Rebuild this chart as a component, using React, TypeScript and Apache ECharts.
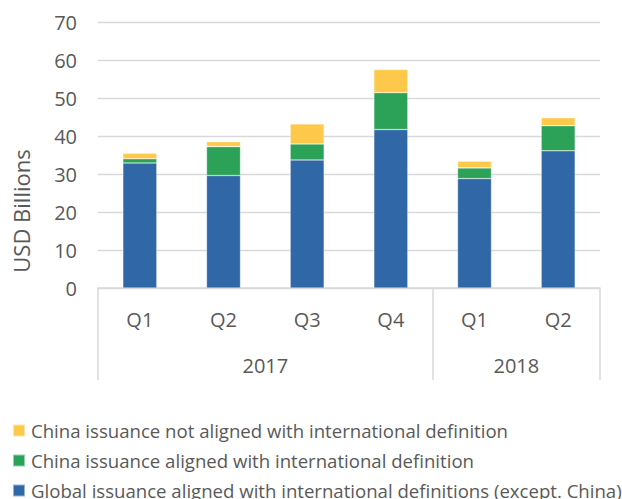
import React, { useEffect, useRef } from "react";
import * as echarts from "echarts";

const quarters = ["Q1", "Q2", "Q3", "Q4", "Q1", "Q2"];
const yearAxisLabels = ["", "", "2017", "", "", "2018", ""];
const yearBoundaryIdx = [0, 4, 6];
const globalAligned = [32.9, 29.6, 33.7, 41.7, 28.8, 36.1];
const chinaAligned = [1.1, 7.6, 4.2, 9.7, 2.8, 6.6];
const chinaNotAligned = [1.5, 1.3, 5.3, 6.1, 1.8, 2.1];
const yTicks = { min: 0, max: 70, interval: 10 };
const yTitle = "USD Billions";

const NAME_NOT = "China issuance not aligned with international definition";
const NAME_AL = "China issuance aligned with international definition";
const NAME_GL = "Global issuance aligned with international definitions (except. China)";
const legendOrder = [NAME_NOT, NAME_AL, NAME_GL];

const FONT = "Open Sans";
const TXT = "#595959";
const LINE = "#d9d9d9";

export default function App() {
  const ref = useRef<HTMLDivElement>(null);
  useEffect(() => {
    if (!ref.current) return;
    const chart = echarts.init(ref.current, undefined, { renderer: "svg" });
    const barStyle = (c: string) => ({ color: c, borderColor: "rgba(255,255,255,0.5)", borderWidth: 0.6 });
    chart.setOption({
      animation: false,
      textStyle: { fontFamily: FONT, color: TXT },
      grid: { left: 98, right: 22, top: 22, bottom: 211, containLabel: false },
      graphic: [
        {
          type: "text",
          x: 21,
          y: 211,
          rotation: Math.PI / 2,
          style: { text: yTitle, fontFamily: FONT, fontSize: 22, fill: TXT, align: "center", verticalAlign: "middle" },
        },
      ],
      legend: legendOrder.map((name, i) => ({
        orient: "vertical",
        left: 12,
        top: 421 + i * 30,
        padding: 0,
        itemWidth: 12,
        itemHeight: 12,
        itemGap: 0,
        icon: "rect",
        data: [name],
        textStyle: { fontFamily: FONT, fontSize: 18.6, color: TXT, padding: [0, 0, 0, 1], lineHeight: 18 },
      })),
      xAxis: [
        {
          type: "category",
          data: quarters,
          axisLine: { show: true, lineStyle: { color: LINE, width: 1.5 } },
          axisTick: { show: false },
          axisLabel: { fontFamily: FONT, fontSize: 20, color: TXT, margin: 21 },
        },
        {
          type: "category",
          data: yearAxisLabels,
          boundaryGap: false,
          position: "bottom",
          axisLine: { show: false },
          axisTick: {
            show: true,
            length: 92,
            interval: (i: number) => yearBoundaryIdx.includes(i),
            lineStyle: { color: LINE, width: 1.5 },
          },
          axisLabel: { fontFamily: FONT, fontSize: 20, color: TXT, margin: 67, interval: 0 },
        },
      ],
      yAxis: {
        type: "value",
        ...yTicks,
        axisLine: { show: false },
        axisTick: { show: false },
        axisLabel: { fontFamily: FONT, fontSize: 20, color: TXT, margin: 21 },
        splitLine: { lineStyle: { color: LINE, width: 1.3 } },
      },
      series: [
        { name: NAME_GL, type: "bar", stack: "t", barWidth: 34, data: globalAligned, itemStyle: barStyle("#3067a6") },
        { name: NAME_AL, type: "bar", stack: "t", data: chinaAligned, itemStyle: barStyle("#2ba257") },
        { name: NAME_NOT, type: "bar", stack: "t", data: chinaNotAligned, itemStyle: barStyle("#fec94b") },
      ],
    });
    return () => chart.dispose();
  }, []);
  return <div ref={ref} style={{ width: 622, height: 499, position: "absolute", left: 0, top: 0 }} />;
}
